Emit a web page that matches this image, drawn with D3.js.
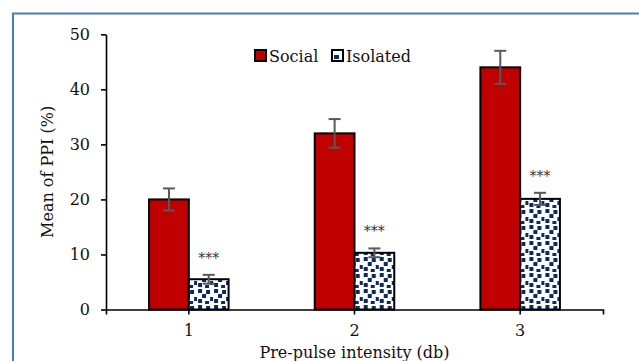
<!DOCTYPE html>
<html>
<head>
<meta charset="utf-8">
<script src="https://cdn.jsdelivr.net/npm/d3@7"></script>
<style>
  body { margin: 0; background: #fff; }
  svg { display: block; font-family: "DejaVu Serif", serif; }
</style>
</head>
<body>
<div id="chart"></div>
<script>
// data
const categories = ["1", "2", "3"];
const seriesNames = ["Social", "Isolated"];
const socialValues = [20, 32, 44];
const socialErrors = [2.0, 2.6, 3.0];
const isolatedValues = [5.5, 10.3, 20.1];
const isolatedErrors = [0.8, 0.8, 1.1];
const sigLabels = ["***", "***", "***"];
const yTicks = [0, 10, 20, 30, 40, 50];

drawChart();

function drawChart(){
    let width = 639, height = 361;
    let margin = {top: 34.3, right: 36, bottom: 51.5, left: 106};

    let svg = d3.select('#chart').append('svg')
                .attr('width', width)
                .attr('height', height);

    // blue frame, runs off the right and bottom edges
    svg.append('rect')
        .attr('x', 13).attr('y', 13.5)
        .attr('width', 700).attr('height', 400)
        .attr('fill', 'none')
        .attr('stroke', '#4a7ebb')
        .attr('stroke-width', 2);

    // dotted fill for the isolated bars
    let pat = svg.append('defs').append('pattern')
        .attr('id', 'dots')
        .attr('patternUnits', 'userSpaceOnUse')
        .attr('width', 16).attr('height', 16);
    pat.append('rect').attr('width', 16).attr('height', 16).attr('fill', '#fff');
    [[1,1],[9,2],[5,6],[13,9],[1,11],[8,13]].forEach(function(p){
        pat.append('rect')
            .attr('x', p[0]).attr('y', p[1])
            .attr('width', 4).attr('height', 4)
            .attr('fill', '#0b2a66');
    });

    let x0 = d3.scaleBand()
                .domain(categories)
                .range([margin.left, width - margin.right])
                .paddingInner(0.52)
                .paddingOuter(0.26);
    let x1 = d3.scaleBand()
                .domain(seriesNames)
                .range([0, x0.bandwidth()]);
    let y = d3.scaleLinear()
                .domain([0, 50])
                .range([height - margin.bottom, margin.top]);

    let fills = {Social: '#c00000', Isolated: 'url(#dots)'};

    let rows = categories.map(function(c, i){
        return [
            {cat: c, name: 'Social', value: socialValues[i], err: socialErrors[i]},
            {cat: c, name: 'Isolated', value: isolatedValues[i], err: isolatedErrors[i], sig: sigLabels[i]}
        ];
    });

    // bars
    let groups = svg.append('g').selectAll('g')
        .data(rows)
      .enter().append('g')
        .attr('transform', function(d){ return 'translate(' + x0(d[0].cat) + ',0)'; });

    groups.selectAll('rect')
        .data(function(d){ return d; })
      .enter().append('rect')
        .attr('x', function(d){ return x1(d.name); })
        .attr('y', function(d){ return y(d.value); })
        .attr('width', x1.bandwidth())
        .attr('height', function(d){ return y(0) - y(d.value); })
        .attr('fill', function(d){ return fills[d.name]; })
        .attr('stroke', '#000')
        .attr('stroke-width', 2);

    // error bars
    let eb = groups.selectAll('g.err')
        .data(function(d){ return d; })
      .enter().append('g')
        .attr('class', 'err')
        .attr('stroke', '#595959')
        .attr('stroke-width', 2);
    eb.append('line')
        .attr('x1', function(d){ return x1(d.name) + x1.bandwidth() / 2; })
        .attr('x2', function(d){ return x1(d.name) + x1.bandwidth() / 2; })
        .attr('y1', function(d){ return y(d.value + d.err); })
        .attr('y2', function(d){ return y(d.value - d.err); });
    eb.selectAll('line.cap')
        .data(function(d){ return [d.value + d.err, d.value - d.err].map(function(v){ return {name: d.name, v: v}; }); })
      .enter().append('line')
        .attr('class', 'cap')
        .attr('x1', function(d){ return x1(d.name) + x1.bandwidth() / 2 - 6; })
        .attr('x2', function(d){ return x1(d.name) + x1.bandwidth() / 2 + 6; })
        .attr('y1', function(d){ return y(d.v); })
        .attr('y2', function(d){ return y(d.v); });

    // significance stars
    groups.append('text')
        .attr('x', function(d){ return x1('Isolated') + x1.bandwidth() / 2; })
        .attr('y', function(d){ return y(d[1].value + d[1].err) - 12; })
        .attr('text-anchor', 'middle')
        .attr('font-size', 14)
        .attr('fill', '#333')
        .text(function(d){ return d[1].sig; });

    // axes
    let yAxis = svg.append('g')
        .attr('transform', 'translate(' + margin.left + ',0)')
        .call(d3.axisLeft(y).tickValues(yTicks).tickSize(5).tickSizeOuter(0).tickPadding(11));
    let xAxis = svg.append('g')
        .attr('transform', 'translate(0,' + y(0) + ')')
        .call(d3.axisBottom(x0).tickSize(5).tickSizeOuter(5).tickPadding(10));
    [xAxis, yAxis].forEach(function(a){
        a.selectAll('path, line').attr('stroke', '#000').attr('stroke-width', 1.6);
        a.selectAll('text').attr('font-family', '"DejaVu Serif", serif').attr('font-size', 16).attr('fill', '#111');
    });

    // axis titles
    svg.append('text')
        .attr('transform', 'translate(53,' + (y(0) + y(50)) / 2 + ') rotate(-90)')
        .attr('text-anchor', 'middle')
        .attr('font-size', 16)
        .attr('fill', '#111')
        .text('Mean of PPI (%)');
    svg.append('text')
        .attr('x', (margin.left + width - margin.right) / 2)
        .attr('y', 358)
        .attr('text-anchor', 'middle')
        .attr('font-size', 16)
        .attr('fill', '#111')
        .text('Pre-pulse intensity (db)');

    // legend
    let legend = svg.append('g').selectAll('g')
        .data(seriesNames)
      .enter().append('g')
        .attr('transform', function(d, i){ return 'translate(' + [255, 332][i] + ',50)'; });
    legend.append('rect')
        .attr('width', 11).attr('height', 11)
        .attr('fill', function(d){ return d === 'Social' ? fills.Social : '#fff'; })
        .attr('stroke', '#000').attr('stroke-width', 2);
    legend.filter(function(d){ return d === 'Isolated'; }).append('rect')
        .attr('x', 2).attr('y', 5).attr('width', 5).attr('height', 4)
        .attr('fill', '#0b2a66');
    legend.append('text')
        .attr('x', 14).attr('y', 12)
        .attr('font-size', 16)
        .attr('fill', '#111')
        .text(function(d){ return d; });
}
</script>
</body>
</html>
